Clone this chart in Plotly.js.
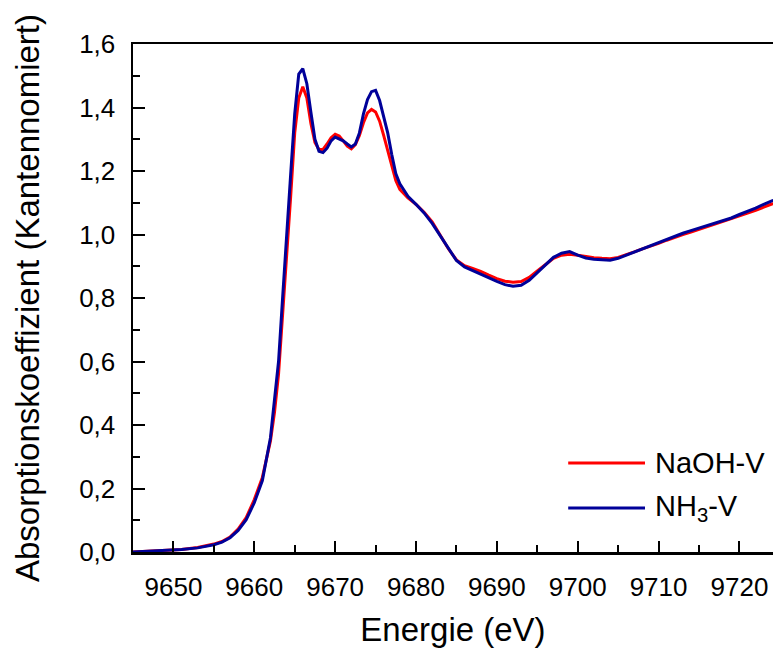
<!DOCTYPE html>
<html>
<head>
<meta charset="utf-8">
<script src="https://cdn.plot.ly/plotly-3.0.1.min.js"></script>
<style>
  html, body { margin: 0; padding: 0; background: #ffffff; }
  #chart { width: 773px; height: 648px; }
</style>
</head>
<body>
<div id="chart"></div>
<script>
// V K-edge XANES, edge-step normalised
const energy = [
  9645, 9647, 9649, 9651, 9653, 9655, 9656, 9657, 9658, 9659,
  9660, 9661, 9662, 9662.5, 9663, 9663.5, 9664, 9664.5, 9665, 9665.5,
  9666, 9666.5, 9667, 9667.5, 9668, 9668.5, 9669, 9669.5, 9670, 9670.5,
  9671, 9671.5, 9672, 9672.5, 9673, 9673.5, 9674, 9674.5, 9675, 9675.5,
  9676, 9676.5, 9677, 9677.5, 9678, 9679, 9680, 9681, 9682, 9683,
  9684, 9685, 9686, 9687, 9688, 9689, 9690, 9691, 9692, 9693,
  9694, 9695, 9696, 9697, 9698, 9699, 9700, 9701, 9702, 9703,
  9704, 9705, 9706, 9707, 9708, 9709, 9710, 9711, 9712, 9713,
  9714, 9715, 9716, 9717, 9718, 9719, 9720, 9721, 9722, 9723,
  9724, 9725
];

const naohV = [
  0.000, 0.002, 0.004, 0.008, 0.014, 0.025, 0.033, 0.047, 0.072, 0.108,
  0.165, 0.235, 0.350, 0.440, 0.560, 0.740, 0.920, 1.120, 1.320, 1.430,
  1.465, 1.430, 1.350, 1.290, 1.268, 1.268, 1.285, 1.305, 1.316, 1.310,
  1.295, 1.278, 1.270, 1.283, 1.312, 1.352, 1.383, 1.394, 1.386, 1.357,
  1.312, 1.265, 1.212, 1.170, 1.142, 1.115, 1.095, 1.070, 1.040, 0.996,
  0.955, 0.920, 0.902, 0.893, 0.884, 0.872, 0.861, 0.853, 0.850, 0.852,
  0.865, 0.885, 0.905, 0.925, 0.935, 0.938, 0.935, 0.930, 0.927, 0.925,
  0.924, 0.928, 0.936, 0.945, 0.955, 0.963, 0.972, 0.982, 0.992, 1.000,
  1.008, 1.016, 1.024, 1.032, 1.040, 1.050, 1.059, 1.067, 1.076, 1.086,
  1.096, 1.102
];

const nh3V = [
  0.000, 0.002, 0.004, 0.008, 0.013, 0.023, 0.031, 0.045, 0.068, 0.102,
  0.155, 0.225, 0.360, 0.470, 0.600, 0.800, 0.980, 1.190, 1.380, 1.505,
  1.522, 1.475, 1.385, 1.300, 1.262, 1.258, 1.272, 1.295, 1.307, 1.302,
  1.295, 1.285, 1.276, 1.285, 1.320, 1.380, 1.425, 1.450, 1.454, 1.422,
  1.372, 1.320, 1.252, 1.192, 1.160, 1.120, 1.095, 1.068, 1.035, 0.995,
  0.955, 0.918, 0.898, 0.886, 0.876, 0.864, 0.852, 0.842, 0.837, 0.840,
  0.856, 0.880, 0.905, 0.928, 0.941, 0.946, 0.935, 0.926, 0.922, 0.920,
  0.919, 0.925, 0.935, 0.946, 0.956, 0.965, 0.975, 0.986, 0.995, 1.004,
  1.012, 1.020, 1.028, 1.036, 1.043, 1.052, 1.063, 1.072, 1.083, 1.095,
  1.106, 1.112
];

const seriesNames = ['NaOH-V', 'NH<sub>3</sub>-V'];
const seriesColors = ['#ff0000', '#000099'];

const FONT = 'Liberation Sans, Arial, sans-serif';

const traces = [
  { x: energy, y: naohV, name: seriesNames[0], type: 'scatter', mode: 'lines',
    line: { color: seriesColors[0], width: 3 }, showlegend: false },
  { x: energy, y: nh3V, name: seriesNames[1], type: 'scatter', mode: 'lines',
    line: { color: seriesColors[1], width: 3 }, showlegend: false }
];

// legend keys drawn as long line samples with labels to their right
const keyX0 = 0.68, keyX1 = 0.80, labelX = 0.8125;
const keyY = [0.175, 0.0866];
const shapes = seriesColors.map((c, i) => ({
  type: 'line', xref: 'paper', yref: 'paper',
  x0: keyX0, x1: keyX1, y0: keyY[i], y1: keyY[i],
  line: { color: c, width: 3 }
}));
const annotations = seriesNames.map((n, i) => ({
  xref: 'paper', yref: 'paper', x: labelX, y: keyY[i],
  xanchor: 'left', yanchor: 'middle', showarrow: false,
  text: n, font: { family: FONT, size: 29, color: '#000' }
}));

const layout = {
  width: 773, height: 648,
  margin: { l: 133, r: 0, t: 44, b: 96 },
  paper_bgcolor: '#ffffff', plot_bgcolor: '#ffffff',
  separators: ', ',
  font: { family: FONT, color: '#000' },
  showlegend: false,
  xaxis: {
    range: [9645, 9724.15],
    dtick: 10, tick0: 9650,
    ticks: 'inside', ticklen: 11, tickwidth: 2, tickcolor: '#000',
    minor: { dtick: 5, ticks: 'inside', ticklen: 7, tickwidth: 2, tickcolor: '#000' },
    showline: true, linewidth: 2.5, linecolor: '#000', mirror: true,
    showgrid: false, zeroline: false,
    tickfont: { family: FONT, size: 26, color: '#000' },
    ticklabelstandoff: 10,
    title: { text: 'Energie (eV)', font: { family: FONT, size: 33, color: '#000' }, standoff: 20 }
  },
  yaxis: {
    range: [0, 1.6],
    dtick: 0.2, tick0: 0, tickformat: '.1f',
    ticks: 'inside', ticklen: 12, tickwidth: 2, tickcolor: '#000',
    minor: { dtick: 0.1, ticks: 'inside', ticklen: 7, tickwidth: 2, tickcolor: '#000' },
    showline: true, linewidth: 2.5, linecolor: '#000', mirror: false,
    showgrid: false, zeroline: false,
    tickfont: { family: FONT, size: 26, color: '#000' },
    ticklabelstandoff: 10,
    title: { text: 'Absorptionskoeffizient (Kantennomiert)', font: { family: FONT, size: 33, color: '#000' }, standoff: 30 }
  },
  shapes: shapes,
  annotations: annotations
};

Plotly.newPlot('chart', traces, layout, { displayModeBar: false, staticPlot: true });
</script>
</body>
</html>
